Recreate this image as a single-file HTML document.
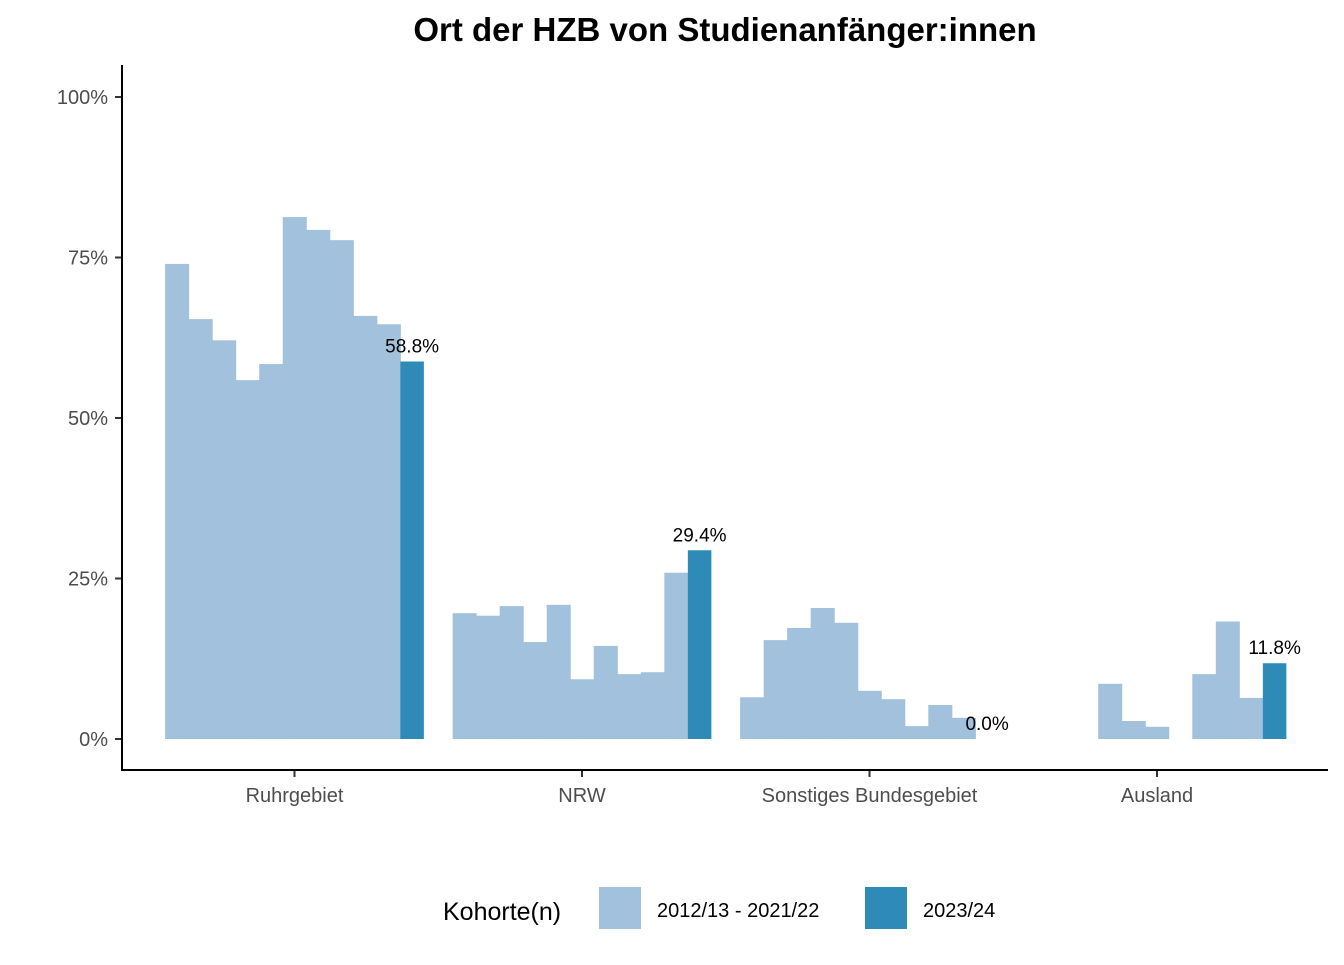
<!DOCTYPE html>
<html><head><meta charset="utf-8"><style>
body{margin:0;background:#fff;}
svg text{font-family:"Liberation Sans",Arial,sans-serif;}
</style></head><body>
<svg id="chart" width="1344" height="960" viewBox="0 0 1344 960">
<text x="725" y="41" text-anchor="middle" font-size="33" font-weight="bold">Ort der HZB von Studienanfänger:innen</text>
<g id="bars"></g>
<g id="yaxis"></g>
<g id="xaxis"></g>
<line x1="122" y1="65" x2="122" y2="771" stroke="#000" stroke-width="2"/>
<line x1="121" y1="770" x2="1328" y2="770" stroke="#000" stroke-width="2"/>
<g>
<text x="443" y="920" font-size="25">Kohorte(n)</text>
<rect x="599" y="887" width="42" height="42" fill="#a1c1dd"/>
<text x="657" y="917" font-size="20">2012/13 - 2021/22</text>
<rect x="865" y="887" width="42" height="42" fill="#2e8bb7"/>
<text x="923" y="917" font-size="20">2023/24</text>
</g>
</svg>
<script>
const categories = ["Ruhrgebiet","NRW","Sonstiges Bundesgebiet","Ausland"];
const pastValues = [
 [74.0,65.4,62.1,55.9,58.4,81.3,79.3,77.7,65.9,64.6],
 [19.6,19.2,20.7,15.1,20.9,9.3,14.5,10.1,10.4,25.9],
 [6.5,15.4,17.3,20.4,18.1,7.5,6.2,2.0,5.3,3.3],
 [0,0,0,8.6,2.8,1.9,0,10.1,18.3,6.4]
];
const currentValues = [58.8,29.4,0.0,11.8];
const currentLabels = ["58.8%","29.4%","0.0%","11.8%"];
const yTicks = [0,25,50,75,100];
const yTickLabels = ["0%","25%","50%","75%","100%"];

const NS="http://www.w3.org/2000/svg";
const y = v => 739 - v*6.42;
const groupCenter = i => 294.5 + i*287.5;
const barW = 287.5*0.9/11;
const bars=document.getElementById('bars'), ya=document.getElementById('yaxis'), xa=document.getElementById('xaxis');
function mk(tag,attrs,parent){const e=document.createElementNS(NS,tag);for(const k in attrs)e.setAttribute(k,attrs[k]);parent.appendChild(e);return e;}
categories.forEach((c,i)=>{
  const x0 = groupCenter(i) - barW*5.5;
  pastValues[i].forEach((v,j)=>{
    if(v<=0) return;
    const r=mk('rect',{x:x0+j*barW,y:y(v),width:barW+0.5,height:y(0)-y(v),fill:'#a1c1dd'},bars);
    
    
  });
  const cv=currentValues[i];
  const r=mk('rect',{x:x0+10*barW,y:y(cv),width:barW,height:y(0)-y(cv),fill:'#2e8bb7'},bars);
  
  
  const t=mk('text',{x:x0+10.5*barW,y:y(cv)-9,'text-anchor':'middle','font-size':19},bars);
  t.textContent=currentLabels[i];
  
  
  mk('line',{x1:groupCenter(i),x2:groupCenter(i),y1:770,y2:777,stroke:'#333','stroke-width':2},xa);
  const l=mk('text',{x:groupCenter(i),y:802,'text-anchor':'middle','font-size':20,fill:'#4d4d4d'},xa);
  l.textContent=c;
  
  
});
yTicks.forEach((v,k)=>{
  mk('line',{x1:115,x2:122,y1:y(v),y2:y(v),stroke:'#333','stroke-width':2},ya);
  const t=mk('text',{x:108,y:y(v)+7,'text-anchor':'end','font-size':20,fill:'#4d4d4d'},ya);
  t.textContent=yTickLabels[k];
  
  
});
</script>
</body></html>
